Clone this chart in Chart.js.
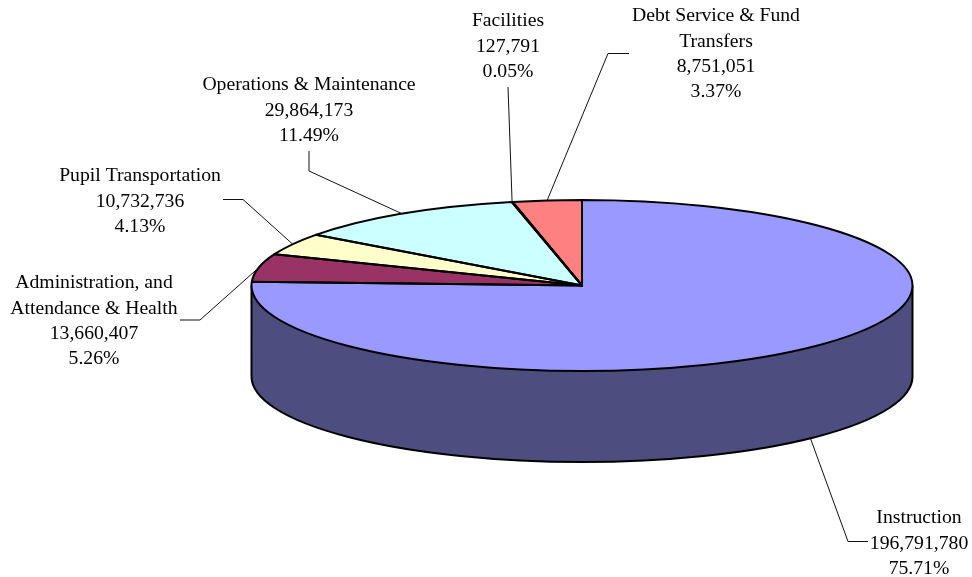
<!DOCTYPE html>
<html>
<head>
<meta charset="utf-8">
<style>html,body{margin:0;padding:0;background:#fff}canvas{display:block}</style>
<script src="https://cdn.jsdelivr.net/npm/chart.js@4/dist/chart.umd.min.js"></script>
</head>
<body>
<canvas id="c" width="972" height="577"></canvas>
<script>
const categories = ["Instruction", "Administration, and|Attendance & Health", "Pupil Transportation", "Operations & Maintenance", "Facilities", "Debt Service & Fund|Transfers"];
const values = [196791780, 13660407, 10732736, 29864173, 127791, 8751051];
const percents = ["75.71%", "5.26%", "4.13%", "11.49%", "0.05%", "3.37%"];
const colors = ["#9999FF", "#993366", "#FFFFCC", "#CCFFFF", "#660066", "#FF8080"];

// Projection of the flat pie into the tilted view
const view = { cx: 582, cy: 285.5, rx: 330.5, ry: 85.5, depth: 91 };
// Label block centre + first line centre, and the leader's elbow points
const labelLayout = [
  { x: 919, y: 518, path: [[868, 541.5], [848, 541.5]] },
  { x: 94, y: 283, path: [[180, 320], [200, 320]] },
  { x: 140, y: 176, path: [[223, 199.5], [243, 199.5]] },
  { x: 309, y: 85, path: [[309, 151], [309, 171]] },
  { x: 508, y: 21, path: [[508, 87]] },
  { x: 716, y: 16, path: [[629, 53.5], [608, 53.5]] }
];
const lineHeight = 25.4;
const fontCss = '19.7px "Liberation Serif"';

function halfColor(hex) {
  const n = parseInt(hex.slice(1), 16);
  const h = v => Math.round(v / 2 + 0.01);
  return `rgb(${h(n >> 16 & 255)},${h(n >> 8 & 255)},${h(n & 255)})`;
}
function arcs(chart) { return chart.getDatasetMeta(0).data; }

const tiltPlugin = {
  id: 'tilt',
  beforeDatasetsDraw(chart) {
    const ctx = chart.ctx, v = view, els = arcs(chart);
    // front wall of the cylinder, clipped to the visible half
    els.forEach((el, i) => {
      const a0 = Math.max(el.startAngle, 0), a1 = Math.min(el.endAngle, Math.PI);
      if (a1 <= a0) return;
      ctx.beginPath();
      ctx.ellipse(v.cx, v.cy, v.rx, v.ry, 0, a0, a1);
      ctx.ellipse(v.cx, v.cy + v.depth, v.rx, v.ry, 0, a1, a0, true);
      ctx.closePath();
      ctx.fillStyle = halfColor(colors[i]);
      ctx.fill();
    });
    ctx.beginPath();
    ctx.moveTo(v.cx + v.rx, v.cy);
    ctx.lineTo(v.cx + v.rx, v.cy + v.depth);
    ctx.ellipse(v.cx, v.cy + v.depth, v.rx, v.ry, 0, 0, Math.PI);
    ctx.lineTo(v.cx - v.rx, v.cy);
    ctx.strokeStyle = '#000';
    ctx.lineWidth = 2;
    ctx.stroke();
    // squash the library's own arcs onto the ellipse
    const e = els[0];
    ctx.save();
    ctx.translate(v.cx, v.cy);
    ctx.scale(v.rx / e.outerRadius, v.ry / e.outerRadius);
    ctx.translate(-e.x, -e.y);
  },
  afterDatasetsDraw(chart) {
    const ctx = chart.ctx, v = view, els = arcs(chart);
    ctx.restore();
    // slice outlines
    ctx.strokeStyle = '#000';
    ctx.lineWidth = 2;
    ctx.lineJoin = 'round';
    els.forEach(el => {
      ctx.beginPath();
      ctx.moveTo(v.cx, v.cy);
      ctx.ellipse(v.cx, v.cy, v.rx, v.ry, 0, el.startAngle, el.endAngle);
      ctx.closePath();
      ctx.stroke();
    });
    // leaders and labels
    els.forEach((el, i) => {
      const mid = (el.startAngle + el.endAngle) / 2;
      const ax = v.cx + v.rx * Math.cos(mid);
      let ay = v.cy + v.ry * Math.sin(mid);
      if (Math.sin(mid) > 0) ay += v.depth;
      const L = labelLayout[i];
      ctx.beginPath();
      L.path.forEach((p, k) => k ? ctx.lineTo(p[0], p[1]) : ctx.moveTo(p[0], p[1]));
      ctx.lineTo(ax, ay);
      ctx.strokeStyle = '#111';
      ctx.lineWidth = 1;
      ctx.stroke();
      const lines = categories[i].split('|').concat([values[i].toLocaleString('en-US'), percents[i]]);
      ctx.font = fontCss;
      ctx.fillStyle = '#000';
      ctx.textAlign = 'center';
      ctx.textBaseline = 'middle';
      lines.forEach((t, k) => ctx.fillText(t, L.x, L.y + k * lineHeight));
    });
  }
};

new Chart(document.getElementById('c'), {
  type: 'pie',
  data: {
    labels: categories.map(s => s.replace('|', ' ')),
    datasets: [{ data: values, backgroundColor: colors, borderWidth: 0, clip: false }]
  },
  options: {
    responsive: false,
    animation: false,
    layout: { padding: 0 },
    plugins: { legend: { display: false }, tooltip: { enabled: false } }
  },
  plugins: [tiltPlugin]
});
</script>
</body>
</html>
